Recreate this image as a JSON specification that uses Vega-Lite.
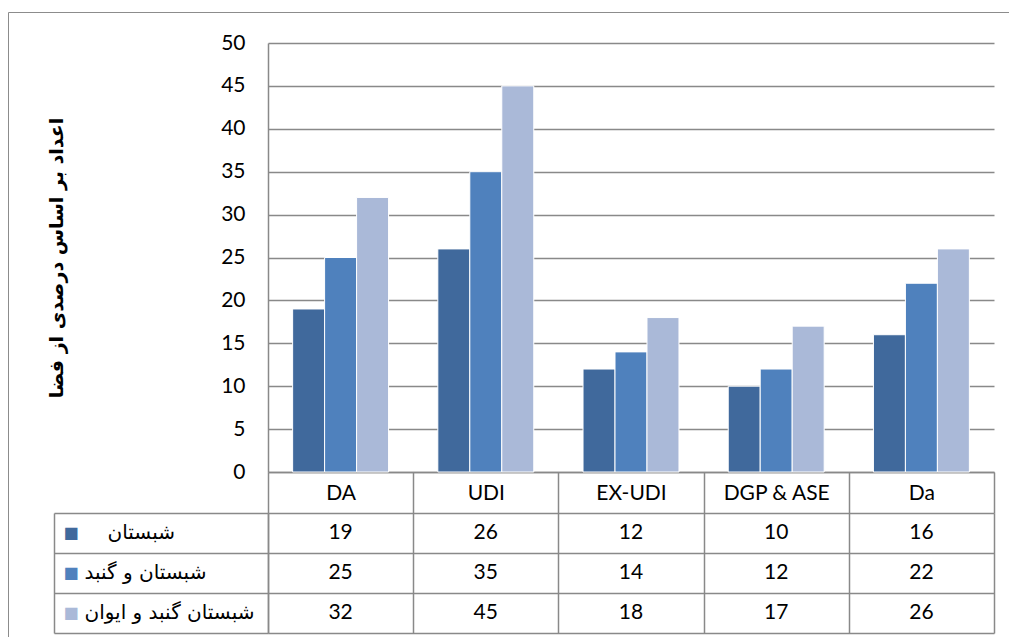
{
  "$schema": "https://vega.github.io/schema/vega-lite/v6.json",
  "autosize": {"type": "none"},
  "padding": {"left": 268, "top": 43, "right": 741, "bottom": 594},
  "background": "white",
  "spacing": 41,
  "bounds": "flush",
  "datasets": {
    "t": [
      {"cat": "DA", "series": "شبستان", "value": 19},
      {"cat": "DA", "series": "شبستان و گنبد", "value": 25},
      {"cat": "DA", "series": "شبستان گنبد  و ایوان", "value": 32},
      {"cat": "UDI", "series": "شبستان", "value": 26},
      {"cat": "UDI", "series": "شبستان و گنبد", "value": 35},
      {"cat": "UDI", "series": "شبستان گنبد  و ایوان", "value": 45},
      {"cat": "EX-UDI", "series": "شبستان", "value": 12},
      {"cat": "EX-UDI", "series": "شبستان و گنبد", "value": 14},
      {"cat": "EX-UDI", "series": "شبستان گنبد  و ایوان", "value": 18},
      {"cat": "DGP & ASE", "series": "شبستان", "value": 10},
      {"cat": "DGP & ASE", "series": "شبستان و گنبد", "value": 12},
      {"cat": "DGP & ASE", "series": "شبستان گنبد  و ایوان", "value": 17},
      {"cat": "Da", "series": "شبستان", "value": 16},
      {"cat": "Da", "series": "شبستان و گنبد", "value": 22},
      {"cat": "Da", "series": "شبستان گنبد  و ایوان", "value": 26}
    ]
  },
  "config": {
    "view": {"stroke": null},
    "font": "Lato, DejaVu Sans",
    "axis": {"labelFont": "Lato, DejaVu Sans", "labelColor": "#000000", "titleColor": "#000000"}
  },
  "resolve": {"scale": {"x": "independent", "y": "independent", "color": "independent"}},
  "vconcat": [
    {
      "width": 726,
      "height": 429,
      "data": {"name": "t"},
      "mark": {"type": "bar", "stroke": "#ffffff", "strokeWidth": 1},
      "encoding": {
        "x": {
          "field": "cat", "type": "nominal",
          "sort": ["DA", "UDI", "EX-UDI", "DGP & ASE", "Da"],
          "scale": {"paddingInner": 0, "paddingOuter": 0},
          "axis": {
            "title": null, "labelAngle": 0, "labelFontSize": 21, "labelBaseline": "middle",
            "labelPadding": -20, "tickBand": "extent", "tickSize": 41, "tickColor": "#898989",
            "tickWidth": 1.5, "domainColor": "#898989", "domainWidth": 1.5, "grid": false
          }
        },
        "xOffset": {
          "field": "series", "type": "nominal",
          "sort": ["شبستان", "شبستان و گنبد", "شبستان گنبد  و ایوان"],
          "scale": {"paddingInner": 0, "paddingOuter": 0.77}
        },
        "y": {
          "field": "value", "type": "quantitative",
          "scale": {"domain": [0, 50], "nice": false},
          "axis": {
            "title": "اعداد بر اساس درصدی از فضا",
            "values": [0, 5, 10, 15, 20, 25, 30, 35, 40, 45, 50],
            "ticks": false, "labelPadding": 23, "labelFontSize": 21,
            "domainColor": "#898989", "domainWidth": 1.5,
            "gridColor": "#898989", "gridWidth": 1.5,
            "titleFont": "DejaVu Sans", "titleFontSize": 19, "titleFontWeight": "bold",
            "titlePadding": 154
          }
        },
        "color": {
          "field": "series", "type": "nominal",
          "scale": {
            "domain": ["شبستان", "شبستان و گنبد", "شبستان گنبد  و ایوان"],
            "range": ["#40699C", "#4F81BD", "#AAB9D8"]
          },
          "legend": {
            "orient": "none", "legendX": -260, "legendY": -31, "direction": "horizontal",
            "columns": 3, "columnPadding": 300,
            "title": null, "padding": 310, "strokeColor": "#8c8c8c",
            "symbolOpacity": 0, "labelOpacity": 0, "labelFontSize": 22,
            "labelLimit": 400, "labelOffset": 120
          }
        }
      }
    },
    {
      "width": 726,
      "height": 120,
      "data": {"name": "t"},
      "layer": [
        {
          "mark": {"type": "text", "fontSize": 21, "baseline": "middle", "align": "center", "color": "#000000"},
          "encoding": {
            "x": {
              "field": "cat", "type": "nominal",
              "sort": ["DA", "UDI", "EX-UDI", "DGP & ASE", "Da"],
              "scale": {"padding": 0},
              "axis": {
                "title": null, "labels": false, "ticks": false, "domain": false,
                "grid": true, "tickBand": "extent", "gridColor": "#898989", "gridWidth": 1.5
              }
            },
            "y": {
              "field": "series", "type": "nominal",
              "sort": ["شبستان", "شبستان و گنبد", "شبستان گنبد  و ایوان"],
              "scale": {"padding": 0},
              "axis": {
                "title": null, "orient": "left", "tickBand": "extent", "tickSize": 214,
                "tickColor": "#898989", "tickWidth": 1.5, "domain": true,
                "domainColor": "#898989", "domainWidth": 1.5,
                "grid": true, "gridColor": "#898989", "gridWidth": 1.5,
                "labels": false
              }
            },
            "text": {"field": "value", "type": "quantitative"}
          }
        },
        {
          "mark": {"type": "text", "opacity": 0},
          "encoding": {
            "y": {
              "field": "series", "type": "nominal",
              "sort": ["شبستان", "شبستان و گنبد", "شبستان گنبد  و ایوان"],
              "axis": {
                "title": null, "orient": "left", "offset": 214, "ticks": false, "grid": false,
                "domain": true, "domainColor": "#898989", "domainWidth": 1.5,
                "labelExpr": "'■'", "labelAlign": "center", "labelBaseline": "middle",
                "labelPadding": -16.5, "labelFontSize": 16, "labelFont": "DejaVu Sans",
                "labelColor": {
                  "condition": [
                    {"test": "datum.value === 'شبستان'", "value": "#40699C"},
                    {"test": "datum.value === 'شبستان و گنبد'", "value": "#4F81BD"}
                  ],
                  "value": "#AAB9D8"
                }
              }
            },
            "text": {"field": "value", "type": "quantitative"}
          }
        },
        {
          "mark": {"type": "text", "opacity": 0},
          "encoding": {
            "y": {
              "field": "series", "type": "nominal",
              "sort": ["شبستان", "شبستان و گنبد", "شبستان گنبد  و ایوان"],
              "axis": {
                "title": null, "orient": "left", "offset": 214, "ticks": false, "grid": false,
                "domain": false,
                "labelAlign": "left", "labelBaseline": "middle",
                "labelPadding": {
                  "condition": {"test": "datum.value === 'شبستان'", "value": -53},
                  "value": -30
                },
                "labelFontSize": 20, "labelFont": "DejaVu Sans"
              }
            },
            "text": {"field": "value", "type": "quantitative"}
          }
        }
      ],
      "resolve": {"axis": {"y": "independent"}}
    }
  ]
}
